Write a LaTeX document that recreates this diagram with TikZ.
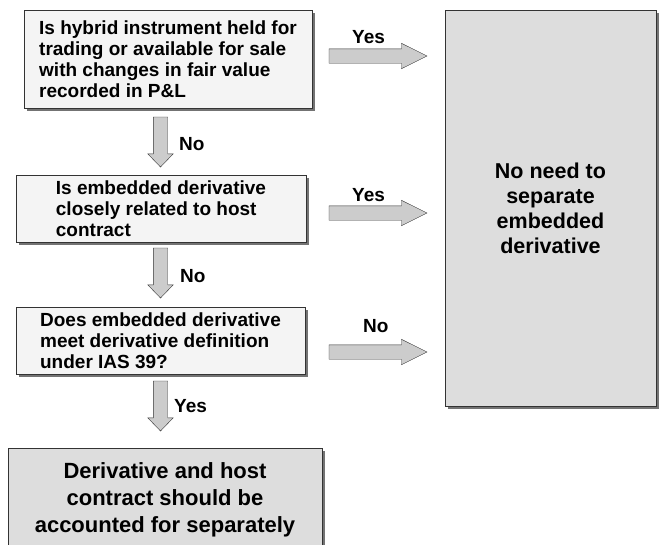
\documentclass[tikz,border=0pt]{standalone}
\usepackage{fontspec}
\setmainfont{Liberation Sans}
\usetikzlibrary{positioning,shapes.arrows,shadows}

\definecolor{lightbox}{HTML}{F4F4F4}
\definecolor{darkbox}{HTML}{DDDDDD}
\definecolor{arrowfill}{HTML}{CCCCCC}

\begin{document}
\begin{tikzpicture}[x=1pt, y=-1pt]
\tikzset{
    question/.style={rectangle, draw=black!80, fill=lightbox, align=left, inner sep=2pt,
        font=\fontsize{19}{21}\selectfont\bfseries,
        drop shadow={shadow xshift=3pt, shadow yshift=-3pt, fill=black!55, opacity=1}},
    result/.style={question, fill=darkbox, align=center},
    fatright/.style={single arrow, draw=black!80, fill=arrowfill, inner sep=7pt,
        single arrow head extend=5.5pt, single arrow tip angle=53, minimum height=98pt, outer sep=0pt},
    fatdown/.style={fatright, shape border rotate=270, single arrow tip angle=88, minimum height=50pt},
    answer/.style={font=\fontsize{19}{21}\selectfont\bfseries, inner sep=0pt, anchor=base west}
}
\useasboundingbox (0,0) rectangle (659,544);
\clip (0,0) rectangle (659,544);

% questions on the left
\node[question, minimum width=288pt, minimum height=98pt] (hybrid) at (168,59)
    {Is hybrid instrument held for\\trading or available for sale\\with changes in fair value\\recorded in P\&L};
\node[question, minimum width=290pt, minimum height=67pt] (related) at (161,208.5)
    {Is embedded derivative\\closely related to host\\contract};
\node[question, minimum width=289pt, minimum height=67pt] (definition) at (160.5,340.5)
    {Does embedded derivative\\meet derivative definition\\under IAS 39?};

% outcomes
\node[result, minimum width=211pt, minimum height=396pt, font=\fontsize{21.5}{25}\selectfont\bfseries] (noneed) at (550.5,208)
    {No need to\\separate\\embedded\\derivative};
\node[result, minimum width=314pt, minimum height=104pt, font=\fontsize{22}{27}\selectfont\bfseries] (separate) at (165,500)
    {Derivative and host\\contract should be\\accounted for separately};

% block arrows
\node[fatdown, anchor=tail] (down1) at (160.5,117) {};
\node[fatdown, anchor=tail] (down2) at (160.5,248) {};
\node[fatdown, anchor=tail] (down3) at (160.5,381) {};
\node[fatright, anchor=tail] (right1) at (329,56) {};
\node[fatright, anchor=tail] (right2) at (329,213) {};
\node[fatright, anchor=tail] (right3) at (329,352) {};

% answers
\node[answer] (no1) at (179,150) {No};
\node[answer] (no2) at (180,282) {No};
\node[answer] (yes3) at (174,412) {Yes};
\node[answer] (yes1) at (352,43) {Yes};
\node[answer] (yes2) at (352,201) {Yes};
\node[answer] (no3) at (363,332) {No};
\end{tikzpicture}
\end{document}
